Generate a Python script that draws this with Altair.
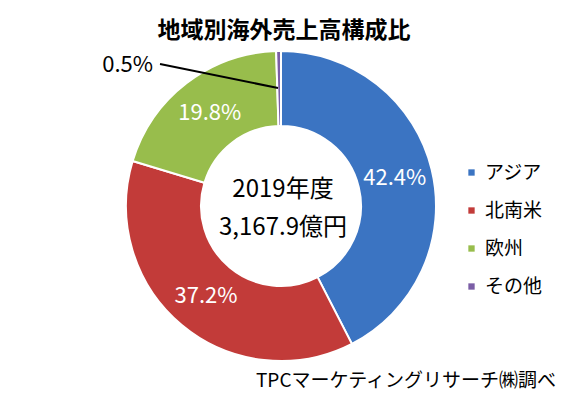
import altair as alt
import pandas as pd

regions = ["アジア", "北南米", "欧州", "その他"]
shares = [42.4, 37.2, 19.8, 0.5]
colors = ["#3B74C2", "#C23B39", "#98BD4C", "#7B5EA6"]
title_text = "地域別海外売上高構成比"
center_lines = ["2019年度", "3,167.9億円"]
source_text = "TPCマーケティングリサーチ㈱調べ"

df = pd.DataFrame({
    "region": regions,
    "share": shares,
    "order": list(range(len(regions))),
    "label": [f"{v:.1f}%" for v in shares],
})

FONT = "Noto Sans CJK JP"
CX, CY = 281, 206

base = alt.Chart(df).encode(
    theta=alt.Theta("share:Q", stack=True),
    order=alt.Order("order:Q"),
)

color_enc = alt.Color(
    "region:N",
    sort=regions,
    scale=alt.Scale(domain=regions, range=colors),
    legend=alt.Legend(
        title=None,
        orient="none",
        legendX=462,
        legendY=163,
        symbolType="square",
        symbolSize=40,
        symbolStrokeWidth=0,
        labelFont=FONT,
        labelFontSize=19,
        labelColor="#000000",
        labelOffset=4,
        rowPadding=18,
    ),
)

arcs = base.mark_arc(
    innerRadius=80, outerRadius=155, stroke="white", strokeWidth=2
).encode(color=color_enc, x=alt.value(CX), y=alt.value(CY))

labels = base.mark_text(
    radius=117, font=FONT, fontSize=22, color="white"
).encode(
    text="label:N", x=alt.value(CX), y=alt.value(CY)
).transform_filter(alt.datum.share >= 1)

small = alt.Chart(df).transform_filter(alt.datum.share < 1).mark_text(
    font=FONT, fontSize=22, color="#000000", align="right", baseline="middle"
).encode(text="label:N", x=alt.value(153), y=alt.value(65))

leader = alt.Chart(df).transform_filter(alt.datum.share < 1).mark_rule(
    color="#000000", strokeWidth=2
).encode(x=alt.value(160), y=alt.value(64), x2=alt.value(278), y2=alt.value(88))

center_top = alt.Chart(pd.DataFrame({"t": [center_lines[0]]})).mark_text(
    font=FONT, fontSize=24, color="#000000", baseline="middle"
).encode(text="t:N", x=alt.value(CX + 2), y=alt.value(190))

center_bottom = alt.Chart(pd.DataFrame({"t": [center_lines[1]]})).mark_text(
    font=FONT, fontSize=24, color="#000000", baseline="middle"
).encode(text="t:N", x=alt.value(CX + 2), y=alt.value(228))

title = alt.Chart(pd.DataFrame({"t": [title_text]})).mark_text(
    font=FONT, fontSize=23, fontWeight="bold", color="#000000", baseline="middle"
).encode(text="t:N", x=alt.value(284), y=alt.value(31))

source = alt.Chart(pd.DataFrame({"t": [source_text]})).mark_text(
    font=FONT, fontSize=19, color="#000000", baseline="middle", align="right"
).encode(text="t:N", x=alt.value(556), y=alt.value(381))

chart = alt.layer(
    arcs, labels, small, leader, center_top, center_bottom, title, source
).properties(
    width=567, height=395, padding=0, autosize=alt.AutoSizeParams(type="none")
).configure_view(stroke=None)

chart.save("out.html", embed_options={"renderer": "svg", "actions": False})
